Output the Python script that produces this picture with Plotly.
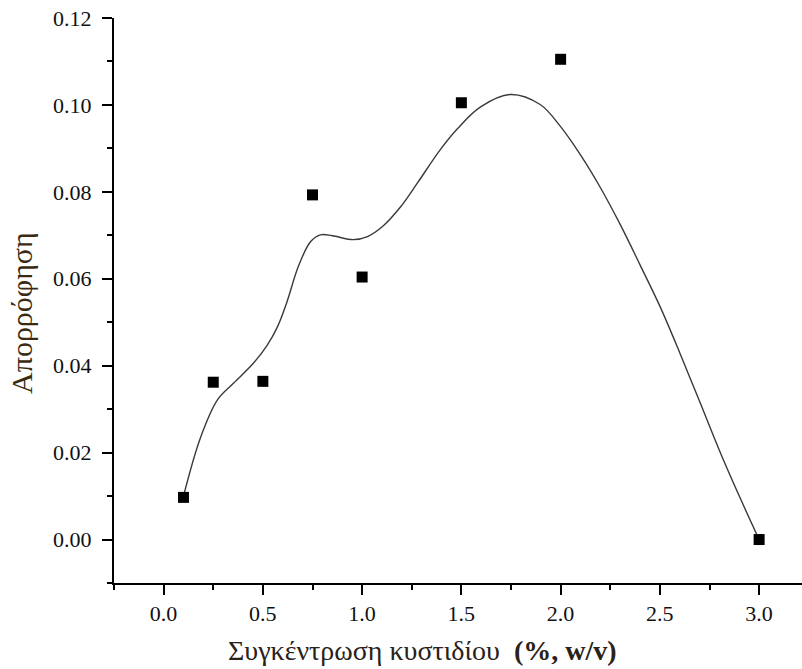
import plotly.graph_objects as go

# Measured absorbance vs. vesicle (κυστίδιο) concentration
concentration = [0.10, 0.25, 0.50, 0.75, 1.00, 1.50, 2.00, 3.00]
absorbance = [0.0097, 0.0362, 0.0364, 0.0793, 0.0604, 0.1005, 0.1105, 0.0]

# Smoothed trend curve through the measurements
fit_x = [0.10, 0.186, 0.272, 0.353, 0.453, 0.523, 0.574, 0.62, 0.68, 0.740,
         0.790, 0.85, 0.956, 1.027, 1.107, 1.193, 1.278, 1.394, 1.48, 1.595,
         1.746, 1.897, 2.0, 2.1, 2.2, 2.3, 2.4, 2.5, 2.6, 2.7,
         2.8, 2.9, 3.0]
fit_y = [0.0100, 0.0235, 0.0322, 0.0360, 0.0406, 0.0448, 0.0490, 0.0545, 0.0630, 0.0685,
         0.0701, 0.0699, 0.0690, 0.0697, 0.0722, 0.0765, 0.0820, 0.0897, 0.0945, 0.0995,
         0.1024, 0.1001, 0.0950, 0.0885, 0.0810, 0.0725, 0.0632, 0.0537, 0.0430, 0.0318,
         0.0205, 0.0100, 0.0]

x_ticks = [0.0, 0.5, 1.0, 1.5, 2.0, 2.5, 3.0]
y_ticks = [0.00, 0.02, 0.04, 0.06, 0.08, 0.10, 0.12]

serif = "Liberation Serif, Times New Roman, serif"

fig = go.Figure()
fig.add_trace(go.Scatter(
    x=fit_x, y=fit_y, mode="lines",
    line=dict(color="#3a3a3a", width=1.4, shape="spline", smoothing=1.0),
    hoverinfo="skip", showlegend=False,
))
fig.add_trace(go.Scatter(
    x=concentration, y=absorbance, mode="markers",
    marker=dict(symbol="square", size=11, color="black"),
    showlegend=False,
))

axis_common = dict(
    showgrid=False, zeroline=False, showline=True, linecolor="black", linewidth=2,
    ticks="outside", ticklen=10, tickwidth=2, tickcolor="black",
    tickfont=dict(family=serif, size=22, color="#111111"),
    mirror=False,
)

fig.update_xaxes(
    range=[-0.25, 3.216], tickvals=x_ticks,
    ticktext=[f"{v:.1f}" for v in x_ticks],
    minor=dict(dtick=0.25, tick0=0, ticks="outside", ticklen=5, tickwidth=2, tickcolor="black"),
    **axis_common,
)
fig.update_yaxes(
    range=[-0.01, 0.12], tickvals=y_ticks,
    ticktext=[f"{v:.2f}" for v in y_ticks],
    minor=dict(dtick=0.01, tick0=0, ticks="outside", ticklen=5, tickwidth=2, tickcolor="black"),
    ticklabelstandoff=6,
    **axis_common,
)

fig.add_annotation(
    text="Συγκέντρωση κυστιδίου  <b>(%, w/v)</b>",
    xref="paper", yref="paper", x=0.449, y=0, yshift=-67,
    xanchor="center", yanchor="middle", showarrow=False,
    font=dict(family=serif, size=28, color="#2a2218"),
)
fig.add_annotation(
    text="Απορρόφηση",
    xref="paper", yref="paper", x=0, xshift=-92, y=0.478,
    xanchor="center", yanchor="middle", textangle=-90, showarrow=False,
    font=dict(family=serif, size=30, color="#3a2a12"),
)

fig.update_layout(
    width=802, height=669,
    margin=dict(l=114, r=0, t=18, b=86),
    paper_bgcolor="white", plot_bgcolor="white",
)

fig.write_html("out.html")
